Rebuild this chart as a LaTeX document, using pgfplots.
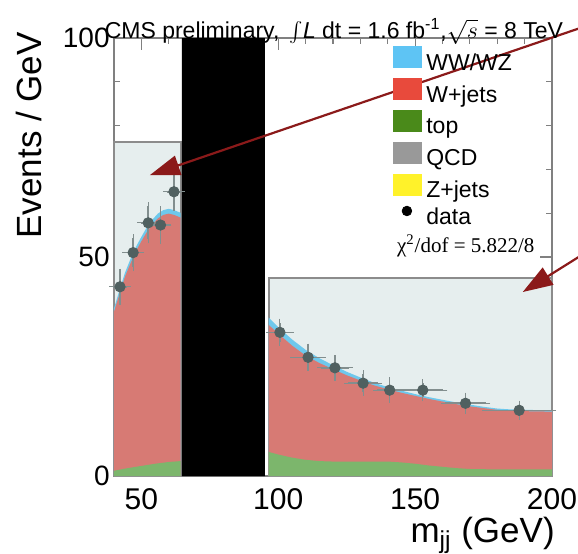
\documentclass[border=0pt]{standalone}
\usepackage{pgfplots}
\pgfplotsset{compat=1.18}
\usepackage{fontspec}
\setmainfont{Liberation Sans}
\newfontfamily\serifchi{Liberation Serif}
\usetikzlibrary{arrows.meta}
\definecolor{wwblue}{RGB}{94,196,244}
\definecolor{wwbluep}{RGB}{110,200,236}
\definecolor{wjred}{RGB}{232,74,60}
\definecolor{wjredp}{RGB}{215,122,116}
\definecolor{topgreen}{RGB}{74,138,26}
\definecolor{topgreenp}{RGB}{124,182,108}
\definecolor{qcdgray}{RGB}{153,153,153}
\definecolor{zjyellow}{RGB}{255,242,42}
\definecolor{lightbox}{RGB}{230,238,238}
\definecolor{boxborder}{RGB}{140,140,140}
\definecolor{axisgray}{RGB}{128,128,128}
\definecolor{arrowred}{RGB}{139,26,26}
\definecolor{datagray}{RGB}{80,96,96}
\definecolor{errgray}{RGB}{130,142,142}
\begin{document}
\begin{tikzpicture}
\begin{axis}[
  at={(0,0)}, anchor=south west,
  scale only axis, width=219pt, height=219pt,
  xmin=40, xmax=200, ymin=0, ymax=100,
  clip=false,
  axis line style={draw=axisgray, line width=1pt},
  xtick={50,100,150,200}, ytick={0,50,100},
  minor x tick num=4, minor y tick num=4,
  major tick length=6pt, minor tick length=3pt,
  every tick/.style={color=axisgray, line width=0.6pt},
  tick align=inside,
  /pgf/number format/assume math mode=true,
  xticklabel style={font=\fontsize{15}{15}\selectfont, inner sep=0pt, anchor=north, yshift=-6pt},
  yticklabel style={font=\fontsize{14}{14}\selectfont, inner sep=0pt, anchor=east, xshift=-2pt},
  xlabel={m\textsubscript{jj} (GeV)},
  ylabel={Events / GeV},
  every axis x label/.style={at={(axis description cs:1.007,-0.152)}, anchor=base east, inner sep=0pt, font=\fontsize{17.5}{17.5}\selectfont},
  every axis y label/.style={at={(axis description cs:-0.194,1.014)}, rotate=90, anchor=east, inner sep=0pt, font=\fontsize{17.5}{17.5}\selectfont},
  title={CMS preliminary, \,$\int$\textit{L} dt = 1.6 fb\textsuperscript{-1},$\sqrt{s}$ = 8 TeV},
  every axis title/.style={at={(axis description cs:0.502,0.999)}, anchor=base, inner sep=0pt, font=\fontsize{11.5}{11.5}\selectfont},
  legend style={at={(axis description cs:0.635,0.982)}, anchor=north west, draw=none, fill=none, inner sep=0pt, row sep=1.5pt, column sep=2.5pt, font=\fontsize{11.5}{11.5}\selectfont, nodes={inner sep=0pt, text height=8pt, text depth=2.5pt}},
  legend cell align=left,
]
% legend entries
\addlegendimage{legend image code/.code={\fill[wwblue] (0pt,-1.5pt) rectangle (14pt,9pt);}}
\addlegendentry{WW/WZ}
\addlegendimage{legend image code/.code={\fill[wjred] (0pt,-1.5pt) rectangle (14pt,9pt);}}
\addlegendentry{W+jets}
\addlegendimage{legend image code/.code={\fill[topgreen] (0pt,-1.5pt) rectangle (14pt,9pt);}}
\addlegendentry{top}
\addlegendimage{legend image code/.code={\fill[qcdgray] (0pt,-1.5pt) rectangle (14pt,9pt);}}
\addlegendentry{QCD}
\addlegendimage{legend image code/.code={\fill[zjyellow] (0pt,-1.5pt) rectangle (14pt,9pt);}}
\addlegendentry{Z+jets}
\addlegendimage{legend image code/.code={\fill[black] (7pt,4pt) circle (2.4pt);}}
\addlegendentry{data}

% signal-region boxes
\addplot[forget plot, draw=boxborder, fill=lightbox, line width=1pt] coordinates {(40,0)(40,76.3)(64.3,76.3)(64.3,0)} \closedcycle;
\addplot[forget plot, draw=boxborder, fill=lightbox, line width=1pt] coordinates {(96.5,0)(96.5,45.2)(200,45.2)(200,0)} \closedcycle;

% left region: stacked (cumulative) WW/WZ, W+jets, top
\addplot[forget plot, draw=none, fill=wwbluep] coordinates {
(40,38.3)(42,42.4)(44,46.4)(46,49.5)(48,52.3)(50,54.6)(52,56.8)(54,58.5)(56,59.9)(58,60.7)(60,61.0)(62,60.7)(64.3,60.1)} \closedcycle;
\addplot[forget plot, draw=none, fill=wjredp] coordinates {
(40,37.5)(42,41.5)(44,45.5)(46,48.5)(48,51.3)(50,53.6)(52,55.7)(54,57.4)(56,58.8)(58,59.6)(60,59.9)(62,59.6)(64.3,59.0)} \closedcycle;
\addplot[forget plot, draw=none, fill=topgreenp] coordinates {
(40,1.2)(45,1.8)(50,2.3)(55,2.8)(60,3.2)(64.3,3.4)} \closedcycle;

% right region
\addplot[forget plot, draw=none, fill=wwbluep] coordinates {
(96.5,36.2)(100,34.0)(105,31.2)(110,28.8)(115,26.9)(120,25.3)(125,23.8)(130,22.5)(135,21.3)(140,20.3)(145,19.5)(150,18.7)(155,18.0)(160,17.4)(165,16.8)(170,16.3)(175,15.8)(180,15.4)(185,15.2)(190,15.1)(200,15.0)} \closedcycle;
\addplot[forget plot, draw=none, fill=wjredp] coordinates {
(96.5,34.5)(100,32.5)(105,29.8)(110,27.5)(115,25.8)(120,24.4)(125,23.0)(130,21.8)(135,20.7)(140,19.8)(145,19.0)(150,18.3)(155,17.6)(160,17.0)(165,16.4)(170,15.9)(175,15.5)(180,15.1)(185,14.9)(190,14.8)(200,14.7)} \closedcycle;
\addplot[forget plot, draw=none, fill=topgreenp] coordinates {
(96.5,5.5)(100,4.9)(105,4.2)(110,3.7)(115,3.4)(120,3.3)(130,3.3)(140,3.3)(145,3.1)(150,2.8)(155,2.4)(160,2.1)(165,1.8)(170,1.6)(180,1.5)(200,1.5)} \closedcycle;

% blinded window
\addplot[forget plot, draw=none, fill=black] coordinates {(64.8,0)(64.8,100)(95.1,100)(95.1,0)} \closedcycle;

% data
\addplot[forget plot, only marks, mark=*, mark size=2.6pt, color=datagray,
  error bars/.cd, x dir=both, x explicit, y dir=both, y explicit,
  error bar style={color=errgray, line width=0.8pt},
  error mark options={color=errgray, mark size=2pt, line width=0.6pt}]
table[x=x, y=y, x error=ex, y error=ey] {
x      y     ex    ey
42.2   43.2  2.5   3.2
47.0   51.0  2.5   3.3
52.5   57.8  2.5   3.8
57.0   57.3  2.5   3.4
61.9   64.9  2.5   3.5
100.6  32.8  3.6   2.2
110.9  27.1  5.0   2.2
120.7  24.7  5.0   2.0
131.0  21.2  5.5   2.0
140.7  19.6  4.5   2.0
152.8  19.6  7.5   1.6
168.4  16.6  7.5   1.5
188.0  15.0  12.0  1.3
};

\node[anchor=base west, font=\serifchi\fontsize{10.5}{10.5}\selectfont] at (axis description cs:0.630,0.511) {χ\textsuperscript{2}/dof = 5.822/8};

% annotation arrows
\draw[arrowred, line width=1.1pt, -{Triangle[length=15pt,width=10pt]}] (axis cs:217.4,103.8) -- (axis cs:53.1,68.7);
\draw[arrowred, line width=1.1pt, -{Triangle[length=15pt,width=10pt]}] (axis cs:217.4,53.0) -- (axis cs:189.3,42.0);
\end{axis}
\pgfresetboundingbox
\path[use as bounding box] (-57pt,-38.5pt) rectangle (232pt,238pt);
\end{tikzpicture}
\end{document}
